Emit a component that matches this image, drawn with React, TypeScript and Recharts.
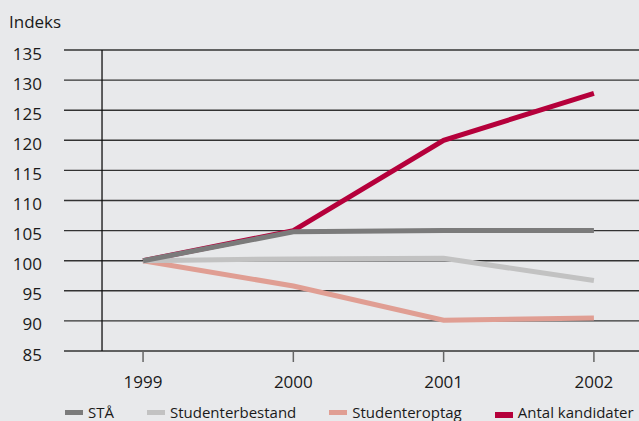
import { LineChart, Line, XAxis, YAxis, CartesianGrid, ReferenceLine } from 'recharts';

document.body.style.margin = '0';

// årstal og indeksværdier (1999 = 100)
const years = [1999, 2000, 2001, 2002];
const staValues = [100, 104.8, 105, 105];
const bestandValues = [100, 100.3, 100.4, 96.7];
const optagValues = [100, 95.8, 90.1, 90.5];
const kandidatValues = [100, 105, 120, 127.8];
const yTicks = [85, 90, 95, 100, 105, 110, 115, 120, 125, 130, 135];

const SERIES = [
  { key: 'sta', name: 'STÅ', color: '#7b7b7b' },
  { key: 'bestand', name: 'Studenterbestand', color: '#c2c2c2' },
  { key: 'optag', name: 'Studenteroptag', color: '#e09e93' },
  { key: 'kandidater', name: 'Antal kandidater', color: '#b5003b' },
];

const chartData = years.map((year, i) => ({
  year,
  sta: staValues[i],
  bestand: bestandValues[i],
  optag: optagValues[i],
  kandidater: kandidatValues[i],
}));

const FONT = '"Open Sans", sans-serif';
const BG = '#e8e9eb';

const YTick = ({ x, y, payload }: any) => (
  <text x={x} y={y} dy={5} textAnchor="end" dominantBaseline="middle" fill="#1a1a1a" fontSize={17} fontFamily={FONT}>
    {payload.value}
  </text>
);

const XTick = ({ x, y, payload }: any) => (
  <text x={x} y={y} textAnchor="middle" dominantBaseline="middle" fill="#1a1a1a" fontSize={17} fontFamily={FONT}>
    {payload.value}
  </text>
);

export default function App() {
  // tegnes i omvendt rækkefølge så STÅ ligger øverst
  const drawOrder = [...SERIES].reverse();

  return (
    <div style={{ position: 'relative', width: 639, height: 421, background: BG, fontFamily: FONT, overflow: 'hidden' }}>
      <div style={{ position: 'absolute', left: 9, top: 10, fontSize: 17, color: '#1a1a1a' }}>Indeks</div>
      <LineChart width={639} height={421} data={chartData} margin={{ top: 50, right: 0, left: 0, bottom: 0 }}>
        <CartesianGrid vertical={false} stroke="#333" strokeWidth={1.4} />
        <XAxis
          dataKey="year"
          type="number"
          domain={[1998.474, 2002.3]}
          ticks={years}
          allowDataOverflow
          axisLine={false}
          tickSize={11}
          tickLine={{ stroke: '#666', strokeWidth: 1.5 }}
          tick={(p: any) => <XTick {...p} y={383} />}
          height={70}
        />
        <YAxis
          domain={[85, 135]}
          ticks={yTicks}
          width={64}
          axisLine={false}
          tickLine={false}
          tickSize={0}
          tickMargin={22}
          tick={<YTick />}
        />
        <ReferenceLine x={1998.727} stroke="#111" strokeWidth={1.3} />
        {drawOrder.map((s) => (
          <Line
            key={s.key}
            type="linear"
            dataKey={s.key}
            name={s.name}
            stroke={s.color}
            strokeWidth={5}
            dot={false}
            activeDot={false}
            isAnimationActive={false}
          />
        ))}
      </LineChart>
      <div style={{ position: 'absolute', left: 65, top: 402, display: 'flex', alignItems: 'center', fontSize: 15, color: '#1a1a1a', whiteSpace: 'nowrap' }}>
        {SERIES.map((s, i) => (
          <div key={s.key} style={{ display: 'flex', alignItems: 'center', marginRight: i < SERIES.length - 1 ? 33 : 0 }}>
            <span
              style={{
                display: 'inline-block',
                width: 18,
                height: i === 3 ? 6 : 5,
                background: s.color,
                marginRight: 5,
                marginTop: i === 3 ? 6 : 0,
              }}
            />
            <span>{s.name}</span>
          </div>
        ))}
      </div>
    </div>
  );
}
